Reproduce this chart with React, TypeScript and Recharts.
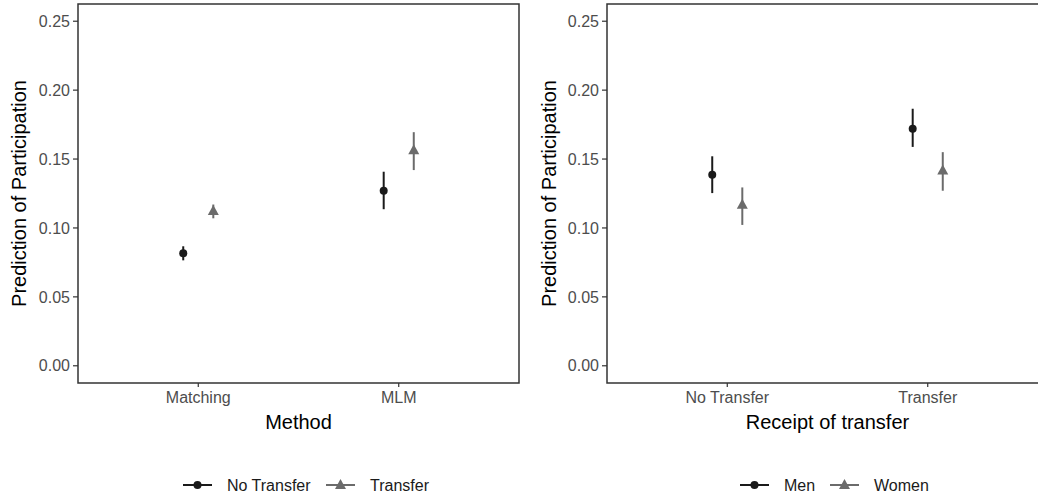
import React from 'react';
import { ScatterChart, Scatter, XAxis, YAxis, ErrorBar, ReferenceArea } from 'recharts';

// left panel: method comparison
const methods = ['Matching', 'MLM'];
const noTransferFit = [0.0816, 0.127];
const noTransferLow = [0.0765, 0.1136];
const noTransferHigh = [0.0867, 0.1408];
const transferFit = [0.112, 0.156];
const transferLow = [0.107, 0.142];
const transferHigh = [0.117, 0.1695];

// right panel: by receipt of transfer
const receipt = ['No Transfer', 'Transfer'];
const menFit = [0.1386, 0.172];
const menLow = [0.1253, 0.1588];
const menHigh = [0.152, 0.1865];
const womenFit = [0.1165, 0.1413];
const womenLow = [0.1022, 0.127];
const womenHigh = [0.1294, 0.155];

const yTicks = [0, 0.05, 0.1, 0.15, 0.2, 0.25];
const dodge = 0.075;

const DARK = '#1A1A1A';
const GREY = '#6B6B6B';
const FONT = '"Liberation Sans", Arial, sans-serif';

const build = (fit: number[], low: number[], high: number[], shift: number) =>
  fit.map((y, i) => ({ x: i + 1 + shift, y, err: [y - low[i], high[i] - y] }));

const Dot = (p: any) => <circle cx={p.cx} cy={p.cy} r={4} fill={DARK} />;
const Tri = (p: any) => (
  <path d={`M${p.cx},${p.cy - 6.5}L${p.cx - 5.5},${p.cy + 3.5}L${p.cx + 5.5},${p.cy + 3.5}Z`} fill={GREY} />
);

const tickStyle = { fill: '#4D4D4D', fontSize: 16, fontFamily: FONT };

function Panel({ cats, a, b, xTitle, yAxisWidth, right }: any) {
  const YTitle = ({ viewBox }: any) => {
    const cx = viewBox.x + 19;
    const cy = viewBox.y + viewBox.height / 2;
    return (
      <text x={cx} y={cy} transform={`rotate(-90, ${cx}, ${cy})`} textAnchor="middle" dominantBaseline="central"
        fontSize={20} fontFamily={FONT} fill="#000">Prediction of Participation</text>
    );
  };
  const XTitle = ({ viewBox }: any) => (
    <text x={viewBox.x + viewBox.width / 2} y={viewBox.y + 46} textAnchor="middle" fontSize={20} fontFamily={FONT} fill="#000">
      {xTitle}
    </text>
  );
  return (
    <ScatterChart width={530} height={440} margin={{ top: 4, right, bottom: 0, left: 0 }}>
      <XAxis type="number" dataKey="x" domain={[0.4, 2.6]} ticks={[1, 2]} allowDataOverflow
        tickFormatter={(v) => cats[v - 1]} height={57} axisLine={false} tickSize={4} tickMargin={5}
        tickLine={{ stroke: '#333333', strokeWidth: 1.2 }} tick={tickStyle} label={<XTitle />} />
      <YAxis type="number" dataKey="y" domain={[-0.0125, 0.2625]} ticks={yTicks} allowDataOverflow
        tickFormatter={(v) => v.toFixed(2)} width={yAxisWidth} axisLine={false} tickSize={5} tickMargin={3}
        tickLine={{ stroke: '#333333', strokeWidth: 1.2 }} tick={tickStyle} label={<YTitle />} />
      <ReferenceArea x1={0.4} x2={2.6} y1={-0.0125} y2={0.2625} fill="none" stroke="#333333" strokeWidth={1.5} ifOverflow="visible" />
      <Scatter data={a} shape={Dot} isAnimationActive={false}>
        <ErrorBar dataKey="err" direction="y" width={0} stroke={DARK} strokeWidth={2} />
      </Scatter>
      <Scatter data={b} shape={Tri} isAnimationActive={false}>
        <ErrorBar dataKey="err" direction="y" width={0} stroke={GREY} strokeWidth={2} />
      </Scatter>
    </ScatterChart>
  );
}

function LegendRow({ left, items }: { left: number; items: { label: string; color: string; tri: boolean; x: number }[] }) {
  return (
    <svg width={438} height={30} style={{ position: 'absolute', left, top: 470 }}>
      {items.map((it) => (
        <g key={it.label}>
          <line x1={it.x} x2={it.x + 29} y1={15} y2={15} stroke={it.color} strokeWidth={2} />
          {it.tri
            ? <path d={`M${it.x + 14.5},${9}L${it.x + 9},${19}L${it.x + 20},${19}Z`} fill={it.color} />
            : <circle cx={it.x + 14.5} cy={15} r={4} fill={it.color} />}
          <text x={it.x + 44} y={15} dominantBaseline="central" fontSize={16} fontFamily={FONT} fill="#1A1A1A">{it.label}</text>
        </g>
      ))}
    </svg>
  );
}

export default function App() {
  return (
    <div style={{ position: 'fixed', left: 0, top: 0, width: 1038, height: 497, overflow: 'hidden', background: '#fff' }}>
      <div style={{ position: 'absolute', left: 0, top: 0 }}>
        <Panel cats={methods} a={build(noTransferFit, noTransferLow, noTransferHigh, -dodge)}
          b={build(transferFit, transferLow, transferHigh, dodge)} xTitle="Method" yAxisWidth={78} right={11} />
      </div>
      <div style={{ position: 'absolute', left: 530, top: 0 }}>
        <Panel cats={receipt} a={build(menFit, menLow, menHigh, -dodge)}
          b={build(womenFit, womenLow, womenHigh, dodge)} xTitle="Receipt of transfer" yAxisWidth={77} right={12} />
      </div>
      <LegendRow left={0} items={[
        { label: 'No Transfer', color: DARK, tri: false, x: 183 },
        { label: 'Transfer', color: GREY, tri: true, x: 326 },
      ]} />
      <LegendRow left={600} items={[
        { label: 'Men', color: DARK, tri: false, x: 140 },
        { label: 'Women', color: GREY, tri: true, x: 230 },
      ]} />
    </div>
  );
}
